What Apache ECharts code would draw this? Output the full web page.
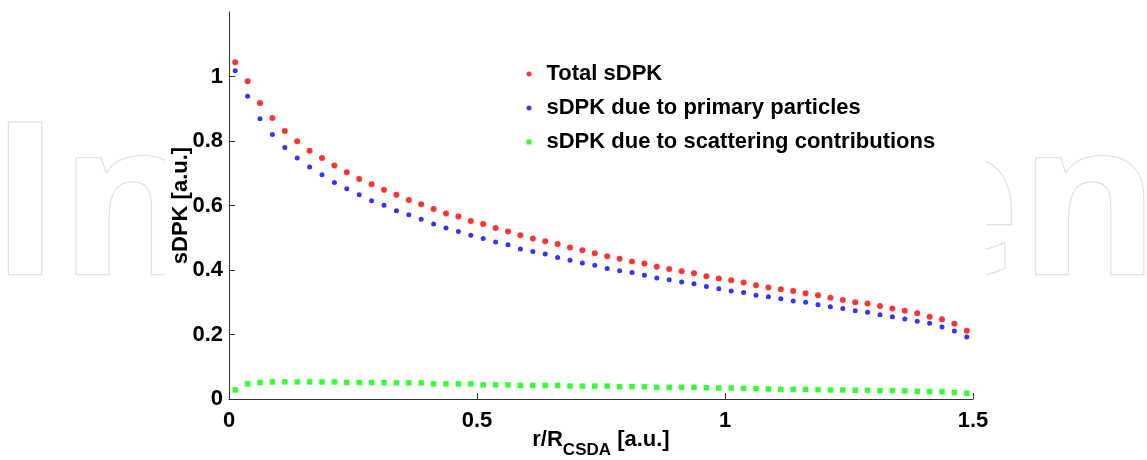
<!DOCTYPE html>
<html>
<head>
<meta charset="utf-8">
<script src="https://cdn.jsdelivr.net/npm/echarts@6/dist/echarts.min.js"></script>
<style>
html,body{margin:0;padding:0;background:#fff;}
#chart{width:1147px;height:460px;}
</style>
</head>
<body>
<div id="chart"></div>
<script>
// r/R_CSDA bin centres
const rValues = [0.0125,0.0375,0.0625,0.0875,0.1125,0.1375,0.1625,0.1875,0.2125,0.2375,
  0.2625,0.2875,0.3125,0.3375,0.3625,0.3875,0.4125,0.4375,0.4625,0.4875,
  0.5125,0.5375,0.5625,0.5875,0.6125,0.6375,0.6625,0.6875,0.7125,0.7375,
  0.7625,0.7875,0.8125,0.8375,0.8625,0.8875,0.9125,0.9375,0.9625,0.9875,
  1.0125,1.0375,1.0625,1.0875,1.1125,1.1375,1.1625,1.1875,1.2125,1.2375,
  1.2625,1.2875,1.3125,1.3375,1.3625,1.3875,1.4125,1.4375,1.4625,1.4875];

const totalSDPK = [1.044,0.985,0.918,0.871,0.831,0.799,0.770,0.747,0.724,0.703,
  0.682,0.666,0.649,0.633,0.617,0.604,0.589,0.575,0.566,0.552,
  0.543,0.530,0.519,0.508,0.498,0.489,0.481,0.470,0.461,0.452,
  0.443,0.435,0.426,0.420,0.410,0.403,0.396,0.390,0.381,0.374,
  0.368,0.361,0.353,0.346,0.340,0.335,0.328,0.322,0.314,0.307,
  0.300,0.296,0.288,0.281,0.274,0.266,0.255,0.247,0.233,0.212];

const primarySDPK = [1.018,0.939,0.869,0.820,0.780,0.747,0.719,0.695,0.671,0.652,
  0.633,0.615,0.601,0.584,0.571,0.557,0.543,0.530,0.519,0.508,
  0.498,0.487,0.478,0.465,0.457,0.450,0.439,0.430,0.422,0.415,
  0.405,0.398,0.392,0.384,0.375,0.370,0.363,0.357,0.349,0.342,
  0.335,0.330,0.322,0.317,0.311,0.304,0.300,0.292,0.286,0.281,
  0.274,0.269,0.261,0.255,0.248,0.241,0.235,0.223,0.211,0.192];

const scatterSDPK = [0.028,0.047,0.051,0.053,0.053,0.053,0.053,0.053,0.053,0.051,
  0.051,0.051,0.051,0.050,0.050,0.050,0.047,0.047,0.047,0.047,
  0.044,0.044,0.044,0.042,0.042,0.042,0.042,0.040,0.040,0.040,
  0.040,0.038,0.038,0.038,0.036,0.036,0.036,0.036,0.035,0.034,
  0.034,0.033,0.032,0.031,0.030,0.030,0.030,0.029,0.028,0.028,
  0.027,0.027,0.026,0.026,0.025,0.024,0.023,0.023,0.020,0.018];

const seriesNames = ['Total sDPK','sDPK due to primary particles','sDPK due to scattering contributions'];
const yTicks = [0,0.2,0.4,0.6,0.8,1];
const xTicks = [0,0.5,1,1.5];

function pairs(ys){ return rValues.map((x,i)=>[x,ys[i]]); }

const FONT = '"Liberation Sans", Arial, Helvetica, sans-serif';
const chart = echarts.init(document.getElementById('chart'), null, {renderer:'canvas'});
chart.setOption({
  backgroundColor:'#ffffff',
  animation:false,
  textStyle:{fontFamily:FONT},
  graphic:[
    {type:'text', z:-3, x:-10, y:214, style:{text:'In', font:'bold 212px "Open Sans"', fill:'#ffffff', stroke:'#e2e2e2', lineWidth:2.5, verticalAlign:'middle', align:'left'}},
    {type:'text', z:-3, x:1159, y:214, style:{text:'en', font:'bold 212px "Open Sans"', fill:'#ffffff', stroke:'#e2e2e2', lineWidth:2.5, verticalAlign:'middle', align:'right'}},
    {type:'rect', z:-2, shape:{x:165, y:0, width:821, height:460}, style:{fill:'#ffffff'}}
  ],
  grid:{left:229, right:174, top:12, bottom:61, containLabel:false, outerBoundsMode:'none'},
  legend:{
    orient:'vertical', left:526.5, top:62, padding:0,
    itemWidth:5, itemHeight:5, itemGap:10,
    selectedMode:false,
    data:[
      {name:seriesNames[0], icon:'circle'},
      {name:seriesNames[1], icon:'circle'},
      {name:seriesNames[2], icon:'rect'}
    ],
    textStyle:{fontFamily:FONT, fontSize:22, fontWeight:'bold', color:'#000', lineHeight:24, padding:[0,0,0,10]}
  },
  xAxis:{
    type:'value', min:0, max:1.5, interval:0.5,
    axisLine:{show:true, onZero:false, lineStyle:{color:'#333', width:1}},
    axisTick:{show:true, inside:true, length:6, lineStyle:{color:'#333'}},
    splitLine:{show:false},
    axisLabel:{margin:11, fontSize:22, fontWeight:'bold', color:'#000', fontFamily:FONT,
      formatter:(v)=>String(v)},
    name:'{a|r/R}{s|CSDA}{a| [a.u.]}',
    nameLocation:'middle', nameGap:30, nameMoveOverlap:false,
    nameTextStyle:{rich:{
      a:{fontSize:22, fontWeight:'bold', color:'#000', fontFamily:FONT, lineHeight:22, verticalAlign:'top'},
      s:{fontSize:17, fontWeight:'bold', color:'#000', fontFamily:FONT, lineHeight:42, verticalAlign:'middle'}
    }}
  },
  yAxis:{
    type:'value', min:0, max:1.2, interval:0.2,
    axisLine:{show:true, onZero:false, lineStyle:{color:'#333', width:1}},
    axisTick:{show:true, inside:true, length:6, lineStyle:{color:'#333'}, customValues:yTicks},
    splitLine:{show:false},
    axisLabel:{margin:6, fontSize:22, fontWeight:'bold', color:'#000', fontFamily:FONT, customValues:yTicks,
      formatter:(v)=>String(+v.toFixed(1))},
    name:'sDPK [a.u.]', nameLocation:'middle', nameGap:37, nameMoveOverlap:false,
    nameTextStyle:{fontSize:22, fontWeight:'bold', color:'#000', fontFamily:FONT}
  },
  series:[
    {name:seriesNames[0], type:'scatter', data:pairs(totalSDPK), symbol:'circle', symbolSize:6,
      itemStyle:{color:'#ff0000'}, z:3},
    {name:seriesNames[1], type:'scatter', data:pairs(primarySDPK), symbol:'circle', symbolSize:5,
      itemStyle:{color:'#0000ff'}, z:4},
    {name:seriesNames[2], type:'scatter', data:pairs(scatterSDPK), symbol:'rect', symbolSize:5.5,
      itemStyle:{color:'#00ff00'}, z:3}
  ]
});
</script>
</body>
</html>
